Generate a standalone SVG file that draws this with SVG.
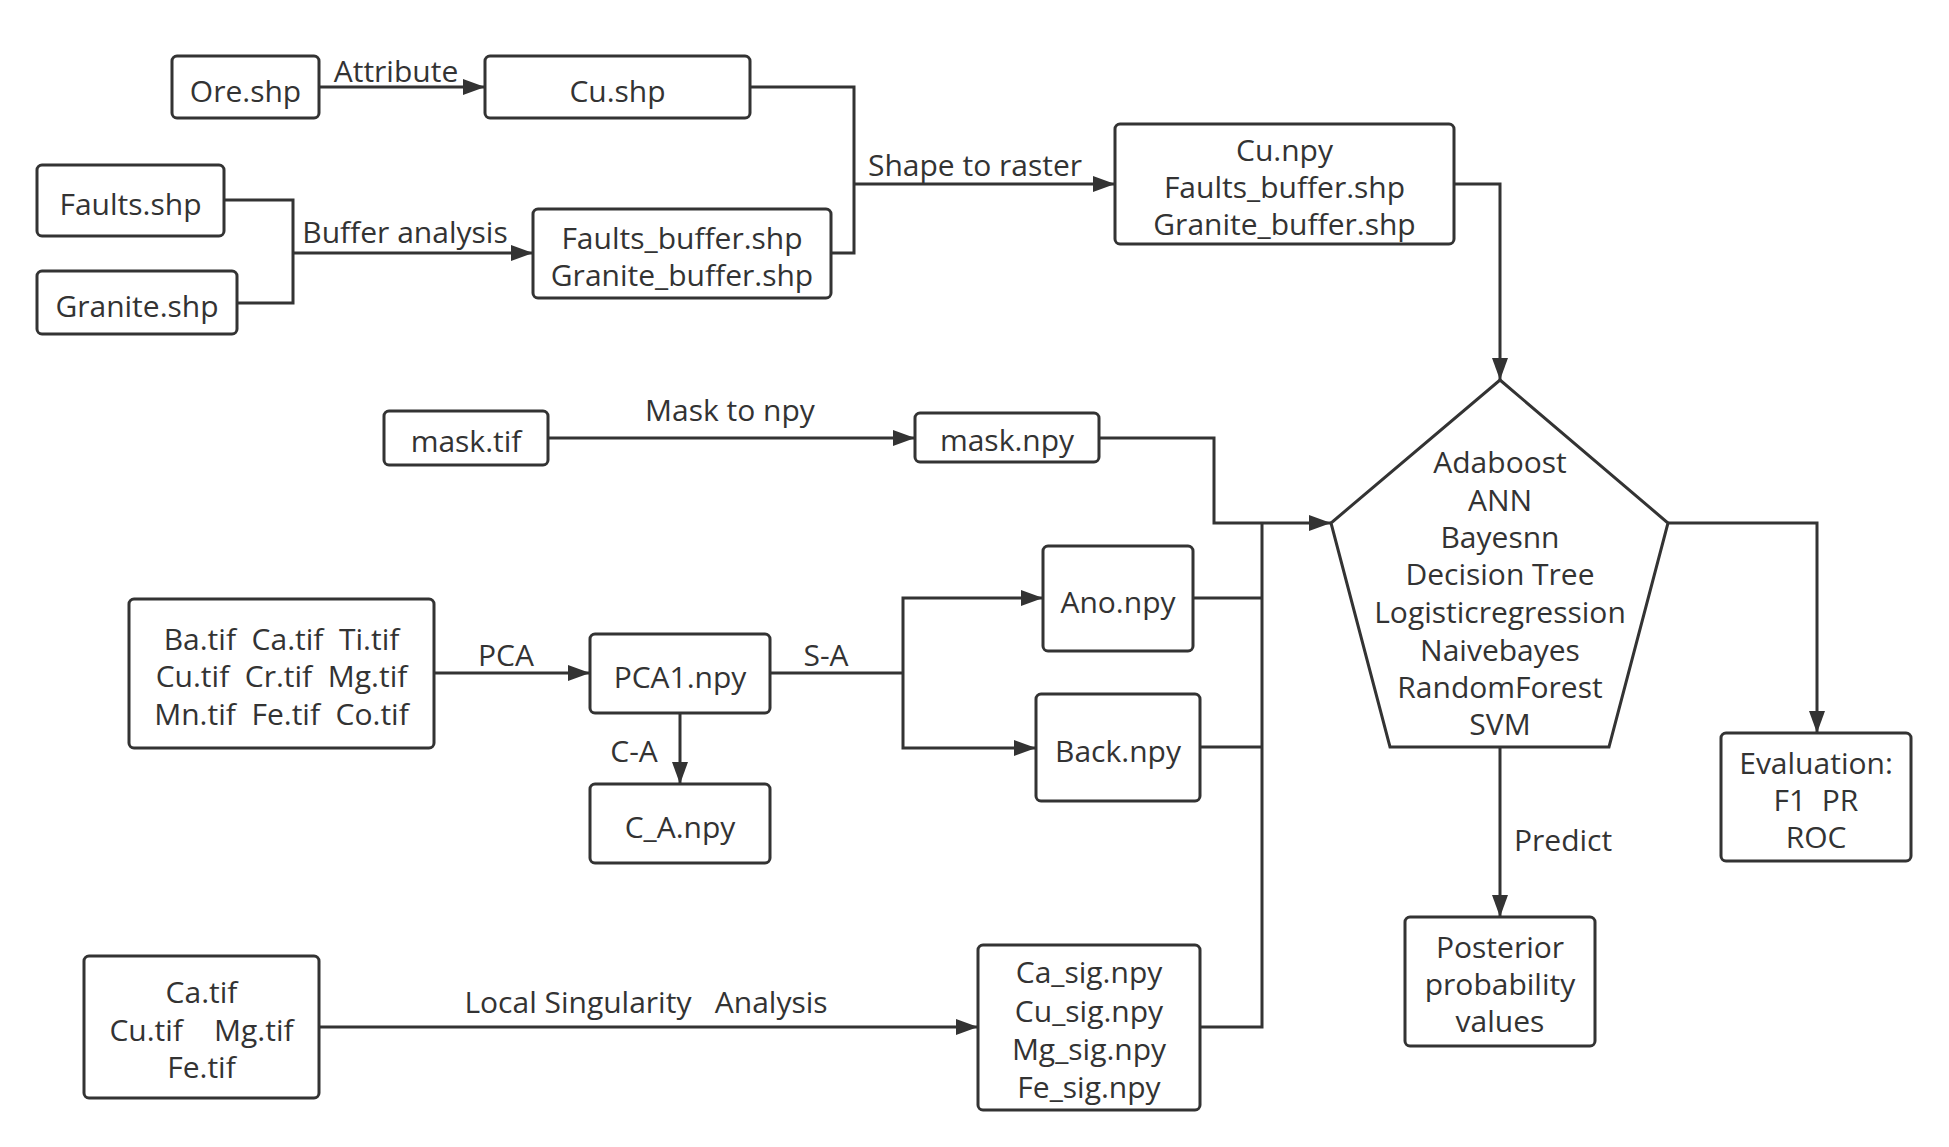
<svg xmlns="http://www.w3.org/2000/svg" width="1949" height="1147" viewBox="0 0 1949 1147">
<style>
.box{fill:#fff;stroke:#333;stroke-width:3}
.t{font-family:"Open Sans","Noto Sans","Liberation Sans",sans-serif;font-size:30px;fill:#333;text-anchor:middle;white-space:pre}
.ls{font-family:"Open Sans","Noto Sans","Liberation Sans",sans-serif;font-size:30px;fill:#333;white-space:pre}
.c{fill:none;stroke:#333;stroke-width:3}
</style>
<defs>
<marker id="arr" viewBox="0 0 22 16" refX="22" refY="8" markerWidth="22" markerHeight="16" markerUnits="userSpaceOnUse" orient="auto">
<path d="M0,0 L22,8 L0,16 z" fill="#333"/>
</marker>
</defs>
<rect width="1949" height="1147" fill="#fff"/>
<g id="connectors">
<path class="c" d="M319,87 H485" marker-end="url(#arr)"/>
<path class="c" d="M224,200 H293 V303 H237"/>
<path class="c" d="M293,253 H533" marker-end="url(#arr)"/>
<path class="c" d="M750,87 H854 V253 H831"/>
<path class="c" d="M854,184 H1115" marker-end="url(#arr)"/>
<path class="c" d="M1454,184 H1500 V380" marker-end="url(#arr)"/>
<path class="c" d="M548,438 H915" marker-end="url(#arr)"/>
<path class="c" d="M1099,438 H1214 V523 H1331" marker-end="url(#arr)"/>
<path class="c" d="M1193,598 H1262"/>
<path class="c" d="M1200,747 H1262"/>
<path class="c" d="M1200,1027 H1262 V523"/>
<path class="c" d="M434,673 H590" marker-end="url(#arr)"/>
<path class="c" d="M770,673 H903"/>
<path class="c" d="M903,673 V598 H1043" marker-end="url(#arr)"/>
<path class="c" d="M903,673 V748 H1036" marker-end="url(#arr)"/>
<path class="c" d="M680,713 V784" marker-end="url(#arr)"/>
<path class="c" d="M319,1027 H978" marker-end="url(#arr)"/>
<path class="c" d="M1500,747 V917" marker-end="url(#arr)"/>
<path class="c" d="M1668,523 H1817 V733" marker-end="url(#arr)"/>
<text class="t" x="396" y="82">Attribute</text>
<text class="t" x="405" y="243">Buffer analysis</text>
<text class="t" x="975" y="176">Shape to raster</text>
<text class="t" x="730" y="421">Mask to npy</text>
<text class="t" x="506" y="666">PCA</text>
<text class="t" x="826" y="666">S-A</text>
<text class="t" x="634" y="762">C-A</text>
<text class="t" x="646" y="1013">Local Singularity   Analysis</text>
<text class="ls" x="1514" y="851">Predict</text>
</g>
<g id="ore">
<rect class="box" x="172" y="56" width="147" height="62" rx="5"/>
<text class="t" x="245.5" y="102">Ore.shp</text>
</g>
<g id="cu-shp">
<rect class="box" x="485" y="56" width="265" height="62" rx="5"/>
<text class="t" x="617.5" y="102">Cu.shp</text>
</g>
<g id="faults">
<rect class="box" x="37" y="165" width="187" height="71" rx="5"/>
<text class="t" x="130.5" y="215">Faults.shp</text>
</g>
<g id="granite">
<rect class="box" x="37" y="271" width="200" height="63" rx="5"/>
<text class="t" x="137" y="317">Granite.shp</text>
</g>
<g id="buffer">
<rect class="box" x="533" y="209" width="298" height="89" rx="5"/>
<text class="t" x="682" y="249">Faults_buffer.shp</text>
<text class="t" x="682" y="286">Granite_buffer.shp</text>
</g>
<g id="cu-npy">
<rect class="box" x="1115" y="124" width="339" height="120" rx="5"/>
<text class="t" x="1284.5" y="161">Cu.npy</text>
<text class="t" x="1284.5" y="198">Faults_buffer.shp</text>
<text class="t" x="1284.5" y="235">Granite_buffer.shp</text>
</g>
<g id="mask-tif">
<rect class="box" x="384" y="411" width="164" height="54" rx="5"/>
<text class="t" x="466" y="452">mask.tif</text>
</g>
<g id="mask-npy">
<rect class="box" x="915" y="413" width="184" height="49" rx="5"/>
<text class="t" x="1007" y="451">mask.npy</text>
</g>
<g id="elements">
<rect class="box" x="129" y="599" width="305" height="149" rx="5"/>
<text class="t" x="281.5" y="649.5">Ba.tif  Ca.tif  Ti.tif</text>
<text class="t" x="281.5" y="687">Cu.tif  Cr.tif  Mg.tif</text>
<text class="t" x="281.5" y="724.5">Mn.tif  Fe.tif  Co.tif</text>
</g>
<g id="pca1">
<rect class="box" x="590" y="634" width="180" height="79" rx="5"/>
<text class="t" x="680" y="688">PCA1.npy</text>
</g>
<g id="ca-npy">
<rect class="box" x="590" y="784" width="180" height="79" rx="5"/>
<text class="t" x="680" y="837.5">C_A.npy</text>
</g>
<g id="ano">
<rect class="box" x="1043" y="546" width="150" height="105" rx="5"/>
<text class="t" x="1118" y="612.5">Ano.npy</text>
</g>
<g id="back">
<rect class="box" x="1036" y="694" width="164" height="107" rx="5"/>
<text class="t" x="1118" y="761.5">Back.npy</text>
</g>
<g id="lsa-input">
<rect class="box" x="84" y="956" width="235" height="142" rx="5"/>
<text class="t" x="201.5" y="1003">Ca.tif</text>
<text class="t" x="201.5" y="1040.5">Cu.tif    Mg.tif</text>
<text class="t" x="201.5" y="1078">Fe.tif</text>
</g>
<g id="sig">
<rect class="box" x="978" y="945" width="222" height="165" rx="5"/>
<text class="t" x="1089" y="983">Ca_sig.npy</text>
<text class="t" x="1089" y="1022">Cu_sig.npy</text>
<text class="t" x="1089" y="1060">Mg_sig.npy</text>
<text class="t" x="1089" y="1098">Fe_sig.npy</text>
</g>
<g id="models">
<polygon class="box" points="1500,380 1668,523 1609,747 1390,747 1331,523"/>
<text class="t" x="1500" y="473">Adaboost</text>
<text class="t" x="1500" y="511">ANN</text>
<text class="t" x="1500" y="548">Bayesnn</text>
<text class="t" x="1500" y="585">Decision Tree</text>
<text class="t" x="1500" y="623">Logisticregression</text>
<text class="t" x="1500" y="661">Naivebayes</text>
<text class="t" x="1500" y="698">RandomForest</text>
<text class="t" x="1500" y="735">SVM</text>
</g>
<g id="posterior">
<rect class="box" x="1405" y="917" width="190" height="129" rx="5"/>
<text class="t" x="1500" y="958">Posterior</text>
<text class="t" x="1500" y="995">probability</text>
<text class="t" x="1500" y="1032">values</text>
</g>
<g id="evaluation">
<rect class="box" x="1721" y="733" width="190" height="128" rx="5"/>
<text class="t" x="1816" y="774">Evaluation:</text>
<text class="t" x="1816" y="811">F1  PR</text>
<text class="t" x="1816" y="848">ROC</text>
</g>
</svg>
